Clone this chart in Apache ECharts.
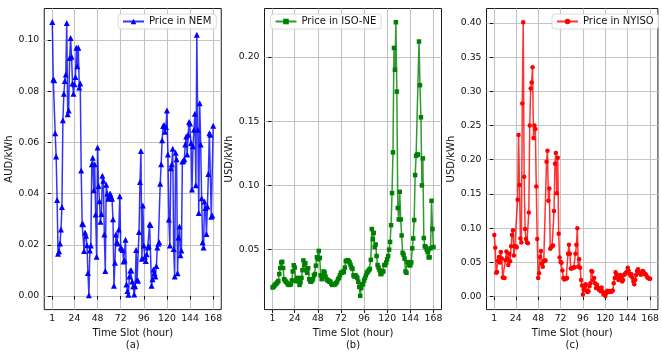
<!DOCTYPE html>
<html>
<head>
<meta charset="utf-8">
<script src="https://cdn.jsdelivr.net/npm/echarts@6/dist/echarts.min.js"></script>
<style>
  html, body { margin: 0; padding: 0; background: #fff; }
  #chart { width: 662px; height: 356px; }
</style>
</head>
<body>
<div id="chart"></div>
<script>
// hourly time slots, 1..168
const hours = Array.from({ length: 168 }, (_, i) => i + 1);
const xTicks = [1, 24, 48, 72, 96, 120, 144, 168];

// price in NEM (AUD/kWh)
const nemPrice = [
  0.107, 0.0846, 0.0843, 0.0636, 0.0545, 0.0375, 0.0165, 0.0175, 0.0205, 0.026,
  0.0348, 0.0687, 0.079, 0.084, 0.0865, 0.1066, 0.071, 0.0725, 0.093, 0.1008,
  0.0935, 0.083, 0.079, 0.0827, 0.0855, 0.097, 0.0897, 0.097, 0.0814, 0.083,
  0.049, 0.0282, 0.028, 0.0176, 0.0248, 0.0235, 0.0198, 0.009, 0.0003, 0.0178,
  0.0197, 0.0515, 0.054, 0.0413, 0.0515, 0.0318, 0.0153, 0.058, 0.043, 0.037,
  0.029, 0.032, 0.047, 0.045, 0.024, 0.0098, 0.0435, 0.040, 0.038, 0.039,
  0.040, 0.039, 0.038, 0.030, 0.004, 0.013, 0.024, 0.021, 0.0205, 0.026,
  0.039, 0.019, 0.0185, 0.018, 0.0135, 0.014, 0.022, 0.0045, 0.002, 0.0005,
  0.0076, 0.01, 0.01, 0.0057, 0.0038, 0.0006, 0.0038, 0.018, 0.0064, 0.006,
  0.025, 0.0445, 0.0566, 0.0146, 0.0354, 0.0197, 0.0153, 0.0137, 0.0163, 0.019,
  0.0195, 0.028, 0.0277, 0.004, 0.0066, 0.0104, 0.0089, 0.0076, 0.0117, 0.019,
  0.0204, 0.021, 0.0439, 0.0515, 0.0608, 0.0664, 0.0668, 0.0642, 0.066, 0.0725,
  0.0553, 0.0299, 0.0197, 0.0499, 0.0515, 0.0575, 0.0184, 0.0076, 0.056, 0.0534,
  0.0089, 0.0229, 0.0272, 0.0159, 0.0178, 0.0525, 0.0528, 0.0534, 0.0592, 0.0623,
  0.0553, 0.063, 0.068, 0.0674, 0.0598, 0.0416, 0.0585, 0.0649, 0.0712, 0.0433,
  0.102, 0.0649, 0.0324, 0.0753, 0.0592, 0.0382, 0.021, 0.019, 0.0369, 0.0344,
  0.0242, 0.035, 0.0477, 0.0636, 0.063, 0.031, 0.0315, 0.0665
];

// price in ISO-NE (USD/kWh)
const isoPrice = [
  0.0205, 0.021, 0.022, 0.023, 0.0235, 0.0245, 0.0255, 0.031, 0.0357, 0.040,
  0.0405, 0.0357, 0.027, 0.026, 0.025, 0.024, 0.023, 0.0225, 0.0228, 0.023,
  0.026, 0.033, 0.0378, 0.036, 0.0255, 0.027, 0.028, 0.0255, 0.0225, 0.0245,
  0.028, 0.034, 0.0416, 0.0378, 0.0395, 0.034, 0.032, 0.0355, 0.027, 0.0255,
  0.025, 0.026, 0.027, 0.030, 0.031, 0.0375, 0.044, 0.0425, 0.049, 0.0435,
  0.030, 0.027, 0.029, 0.033, 0.032, 0.029, 0.027, 0.026, 0.026, 0.025,
  0.025, 0.0235, 0.0225, 0.023, 0.023, 0.023, 0.024, 0.025, 0.027, 0.028,
  0.030, 0.032, 0.032, 0.033, 0.0325, 0.036, 0.041, 0.0415, 0.0418, 0.041,
  0.040, 0.038, 0.036, 0.035, 0.030, 0.029, 0.030, 0.029, 0.028, 0.025,
  0.021, 0.014, 0.020, 0.023, 0.023, 0.026, 0.028, 0.030, 0.032, 0.033,
  0.034, 0.035, 0.042, 0.066, 0.058, 0.063, 0.052, 0.054, 0.045, 0.038,
  0.036, 0.034, 0.031, 0.031, 0.033, 0.033, 0.038, 0.038, 0.040, 0.0425,
  0.045, 0.050, 0.056, 0.069, 0.094, 0.1257, 0.207, 0.190, 0.227, 0.173,
  0.0824, 0.0735, 0.095, 0.0735, 0.061, 0.0475, 0.046, 0.043, 0.033, 0.032,
  0.0403, 0.040, 0.0378, 0.0378, 0.040, 0.051, 0.0587, 0.073, 0.108, 0.123,
  0.124, 0.124, 0.212, 0.178, 0.153, 0.100, 0.121, 0.059, 0.0526, 0.052,
  0.050, 0.048, 0.044, 0.044, 0.051, 0.088, 0.066, 0.052
];

// price in NYISO (USD/kWh)
const nyisoPrice = [
  0.090, 0.0713, 0.035, 0.036, 0.052, 0.058, 0.050, 0.065, 0.0555, 0.028,
  0.0275, 0.027, 0.053, 0.066, 0.0555, 0.046, 0.0627, 0.0517, 0.0737, 0.090,
  0.097, 0.060, 0.0737, 0.0737, 0.072, 0.1416, 0.236, 0.163, 0.085, 0.079,
  0.282, 0.401, 0.175, 0.0986, 0.084, 0.079, 0.078, 0.123, 0.250, 0.304,
  0.313, 0.335, 0.2316, 0.250, 0.245, 0.161, 0.084, 0.027, 0.034, 0.058,
  0.0665, 0.048, 0.0435, 0.0517, 0.0526, 0.0526, 0.197, 0.213, 0.140, 0.158,
  0.070, 0.072, 0.0737, 0.0746, 0.125, 0.194, 0.210, 0.151, 0.203, 0.0919,
  0.057, 0.0507, 0.0493, 0.038, 0.027, 0.025, 0.026, 0.026, 0.027, 0.0627,
  0.0756, 0.0627, 0.041, 0.041, 0.042, 0.042, 0.043, 0.0627, 0.0756, 0.100,
  0.0435, 0.0545, 0.042, 0.0244, 0.0163, 0.003, 0.010, 0.015, 0.018, 0.0077,
  0.0067, 0.0077, 0.015, 0.0196, 0.0373, 0.0364, 0.0244, 0.027, 0.0196, 0.0124,
  0.0172, 0.0134, 0.010, 0.0115, 0.0077, 0.0134, 0.0077, 0.003, 0.005, 0.001,
  0.005, 0.0086, 0.0077, 0.0067, 0.008, 0.0067, 0.0077, 0.009, 0.0196, 0.027,
  0.0354, 0.0325, 0.0277, 0.0244, 0.027, 0.0316, 0.027, 0.022, 0.0244, 0.0316,
  0.033, 0.035, 0.036, 0.042, 0.0373, 0.0325, 0.0306, 0.0325, 0.0277, 0.022,
  0.018, 0.0244, 0.0316, 0.0373, 0.040, 0.036, 0.034, 0.032, 0.034, 0.0373,
  0.0364, 0.033, 0.033, 0.031, 0.028, 0.027, 0.026, 0.026
];

const nemTicks = [0, 0.02, 0.04, 0.06, 0.08, 0.10];
const isoTicks = [0.05, 0.10, 0.15, 0.20];
const nyisoTicks = [0, 0.05, 0.10, 0.15, 0.20, 0.25, 0.30, 0.35, 0.40];

const font = 'DejaVu Sans';
const gridColor = '#c4c4c4';

const panels = [
  { name: 'Price in NEM', values: nemPrice, color: '#0000ff', symbol: 'triangle', size: 6,
    unit: 'AUD/kWh', tag: '(a)', left: 44.25, yMin: -0.0053, yMax: 0.1123, yTicks: nemTicks, legendLeft: 118 },
  { name: 'Price in ISO-NE', values: isoPrice, color: '#008000', symbol: 'rect', size: 4.5,
    unit: 'USD/kWh', tag: '(b)', left: 264.5, yMin: 0.0033, yMax: 0.2377, yTicks: isoTicks, legendLeft: 270.5 },
  { name: 'Price in NYISO', values: nyisoPrice, color: '#ff0000', symbol: 'circle', size: 4.5,
    unit: 'USD/kWh', tag: '(c)', left: 486.5, yMin: -0.019, yMax: 0.421, yTicks: nyisoTicks, legendLeft: 552 }
];

const option = {
  animation: false,
  textStyle: { fontFamily: font },
  grid: [], xAxis: [], yAxis: [], series: [], legend: []
};

panels.forEach((p, i) => {
  option.grid.push({
    left: p.left, top: 8.5, width: 177, height: 306.5,
    show: true, borderColor: '#000', borderWidth: 0.9, backgroundColor: 'transparent'
  });
  option.xAxis.push({
    type: 'value', gridIndex: i, min: -7.35, max: 176.35,
    axisLine: { show: false },
    axisTick: { show: true, customValues: xTicks, length: 3.5, lineStyle: { color: '#000', width: 0.9 } },
    axisLabel: { customValues: xTicks, color: '#111', fontSize: 9.3, fontFamily: font, margin: 4.5 },
    splitLine: { show: true, lineStyle: { color: gridColor, width: 1.1 } },
    name: 'Time Slot (hour)\n' + p.tag, nameLocation: 'middle', nameGap: 13.5,
    nameTextStyle: { fontSize: 10, lineHeight: 11.5, color: '#111', fontFamily: font, verticalAlign: 'top' }
  });
  option.yAxis.push({
    type: 'value', gridIndex: i, min: p.yMin, max: p.yMax,
    axisLine: { show: false },
    axisTick: { show: true, customValues: p.yTicks, length: 3.5, lineStyle: { color: '#000', width: 0.9 } },
    axisLabel: { customValues: p.yTicks, color: '#111', fontSize: 9.3, fontFamily: font, margin: 5,
      formatter: v => v.toFixed(2) },
    splitLine: { show: true, lineStyle: { color: gridColor, width: 1.1 } },
    name: p.unit, nameLocation: 'middle', nameGap: 25,
    nameTextStyle: { fontSize: 10, color: '#111', fontFamily: font }
  });
  option.series.push({
    type: 'line', name: p.name, xAxisIndex: i, yAxisIndex: i,
    data: hours.map((h, k) => [h, p.values[k]]),
    symbol: p.symbol, symbolSize: p.size, showSymbol: true,
    lineStyle: { color: p.color, width: 1.5, opacity: 0.8 },
    itemStyle: { color: p.color },
    emphasis: { disabled: true }
  });
  option.legend.push({
    data: [p.name], left: p.legendLeft, top: 14,
    itemWidth: 21, itemHeight: 7, itemGap: 0,
    textStyle: { fontSize: 10, color: '#111', fontFamily: font },
    backgroundColor: 'rgba(255,255,255,0.85)', borderColor: '#d0d0d0', borderWidth: 0.8,
    borderRadius: 3, padding: [2.5, 5, 2.5, 4]
  });
});

const chart = echarts.init(document.getElementById('chart'), null, { renderer: 'canvas' });
chart.setOption(option);
</script>
</body>
</html>
